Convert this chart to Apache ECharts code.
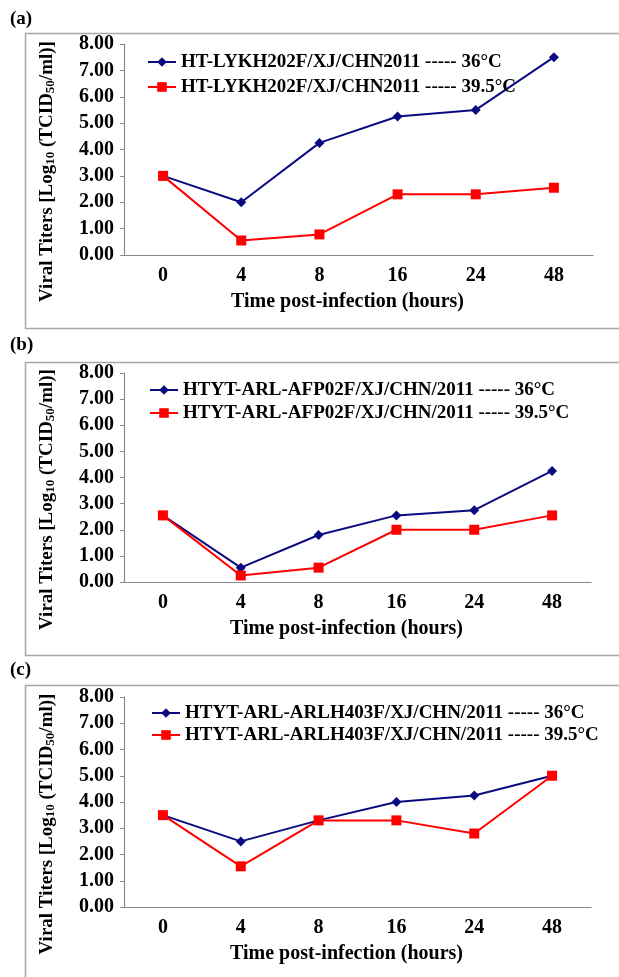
<!DOCTYPE html>
<html>
<head>
<meta charset="utf-8">
<script src="https://cdn.jsdelivr.net/npm/echarts@6/dist/echarts.min.js"></script>
<style>
    html, body { margin: 0; padding: 0; background: #fff; }
    #main { width: 619px; height: 977px; }
</style>
</head>
<body>
<div id="main"></div>
<script>
// 横轴 时间点 (hours)
const hours = ['0', '4', '8', '16', '24', '48']
// 三个毒株名称
const strainA = 'HT-LYKH202F/XJ/CHN2011'
const strainB = 'HTYT-ARL-AFP02F/XJ/CHN/2011'
const strainC = 'HTYT-ARL-ARLH403F/XJ/CHN/2011'
// 病毒滴度 Log10(TCID50/ml)
const a36 = [3.0, 2.0, 4.25, 5.25, 5.5, 7.5]
const a395 = [3.0, 0.55, 0.78, 2.3, 2.3, 2.55]
const b36 = [2.55, 0.55, 1.8, 2.55, 2.75, 4.25]
const b395 = [2.55, 0.25, 0.55, 2.0, 2.0, 2.55]
const c36 = [3.5, 2.5, 3.3, 4.0, 4.25, 5.0]
const c395 = [3.5, 1.55, 3.3, 3.3, 2.8, 5.0]

const FONT = '"Liberation Serif", "Times New Roman", serif'
const BLUE = '#0b0b80'
const RED = '#ff0000'
const AXIS_GRAY = '#8a8a8a'

// 每个小图的位置
const panels = [
    {tag: '(a)', strain: strainA, d36: a36, d395: a395, top: 44, height: 211, right: 26, frameTop: 33, frameH: 295, tagTop: 10, legendTop: 47, legendGap: 5, legendLeft: 142},
    {tag: '(b)', strain: strainB, d36: b36, d395: b395, top: 373, height: 209, right: 28, frameTop: 362, frameH: 293, tagTop: 336, legendTop: 375, legendGap: 3, legendLeft: 144},
    {tag: '(c)', strain: strainC, d36: c36, d395: c395, top: 697, height: 210, right: 28, frameTop: 685, frameH: 320, tagTop: 661, legendTop: 698, legendGap: 2, legendLeft: 146}
]

const grids = []
const xAxes = []
const yAxes = []
const legends = []
const series = []
const graphics = []

panels.forEach((p, i) => {
    grids.push({left: 124, right: p.right, top: p.top, height: p.height})
    xAxes.push({
        type: 'category',
        gridIndex: i,
        data: hours,
        boundaryGap: true,
        axisLine: {lineStyle: {color: AXIS_GRAY, width: 1.2}},
        axisTick: {show: false},
        axisLabel: {color: '#000', fontFamily: FONT, fontWeight: 'bold', fontSize: 20, margin: 11},
        name: 'Time post-infection (hours)',
        nameLocation: 'middle',
        nameGap: 37,
        nameTextStyle: {color: '#000', fontFamily: FONT, fontWeight: 'bold', fontSize: 20, padding: [0, 22, 0, 0]}
    })
    yAxes.push({
        type: 'value',
        gridIndex: i,
        min: 0,
        max: 8,
        interval: 1,
        splitLine: {show: false},
        axisLine: {show: true, lineStyle: {color: AXIS_GRAY, width: 1.2}},
        axisTick: {show: true, length: 4, lineStyle: {color: AXIS_GRAY}},
        axisLabel: {
            color: '#000', fontFamily: FONT, fontWeight: 'bold', fontSize: 20, margin: 10,
            formatter: (v) => v.toFixed(2)
        },
        name: '{t|Viral Titers [Log}{s|10}{t| (TCID}{s|50}{t|/ml)]}',
        nameLocation: 'middle',
        nameRotate: 90,
        nameGap: 67,
        nameTextStyle: {
            padding: [0, 44, 0, 0],
            rich: {
                t: {color: '#000', fontFamily: FONT, fontWeight: 'bold', fontSize: 19},
                s: {color: '#000', fontFamily: FONT, fontWeight: 'bold', fontSize: 13, verticalAlign: 'bottom', padding: [4, 0, 0, 0]}
            }
        }
    })
    const n36 = p.strain + ' ----- 36\u00b0C'
    const n395 = p.strain + ' ----- 39.5\u00b0C'
    legends.push({
        orient: 'vertical',
        left: p.legendLeft,
        top: p.legendTop,
        itemWidth: 28,
        itemHeight: 12,
        itemGap: p.legendGap,
        data: [n36, n395],
        textStyle: {color: '#000', fontFamily: FONT, fontWeight: 'bold', fontSize: 19, lineHeight: 20}
    })
    series.push({
        type: 'line',
        name: n36,
        xAxisIndex: i,
        yAxisIndex: i,
        data: p.d36,
        symbol: 'diamond',
        symbolSize: 10,
        color: BLUE,
        lineStyle: {color: BLUE, width: 2},
        itemStyle: {color: BLUE},
        animation: false
    })
    series.push({
        type: 'line',
        name: n395,
        xAxisIndex: i,
        yAxisIndex: i,
        data: p.d395,
        symbol: 'rect',
        symbolSize: 10,
        color: RED,
        lineStyle: {color: RED, width: 2},
        itemStyle: {color: RED},
        animation: false
    })
    // 外框
    graphics.push({
        type: 'rect',
        shape: {x: 25.5, y: p.frameTop + 0.5, width: 640, height: p.frameH},
        style: {fill: 'none', stroke: '#a8a8a8', lineWidth: 1.5},
        silent: true
    })
    // 小标题
    graphics.push({
        type: 'text',
        left: 10,
        top: p.tagTop,
        style: {text: p.tag, font: 'bold 19px ' + FONT, fill: '#000'}
    })
})

const cs = echarts.init(document.getElementById('main'))
cs.setOption({
    backgroundColor: '#fff',
    animation: false,
    grid: grids,
    xAxis: xAxes,
    yAxis: yAxes,
    legend: legends,
    graphic: graphics,
    series: series
})
</script>
</body>
</html>
